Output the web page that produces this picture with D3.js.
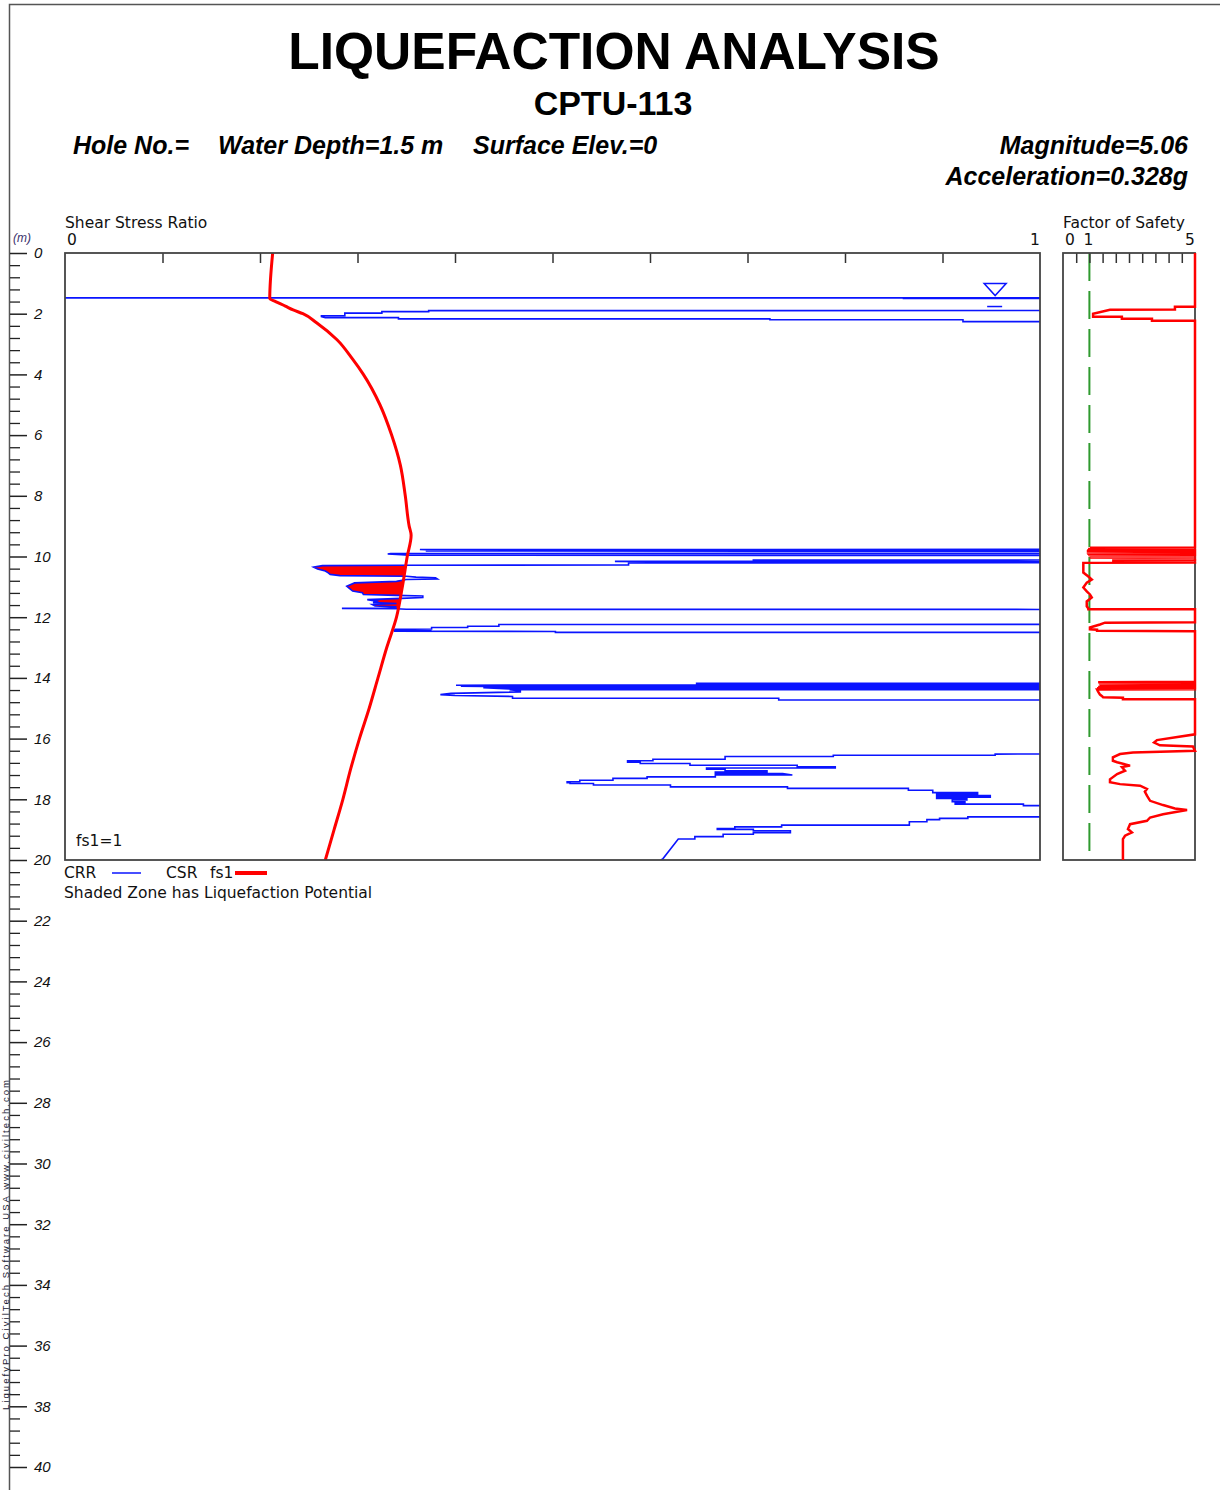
<!DOCTYPE html>
<html><head><meta charset="utf-8">
<script src="https://cdn.jsdelivr.net/npm/d3@7"></script>
<style>
body{margin:0;background:#fff}
svg{display:block}
.sm{font-family:"DejaVu Sans",sans-serif;font-size:15.5px;fill:#111}
.hd{font-family:"Liberation Sans",Arial,sans-serif;font-weight:bold;font-style:italic;font-size:25px;fill:#000}
</style>
</head><body>
<svg id="c" width="1220" height="1490"></svg>
<script>
// ---------- data ----------
const titleText = "LIQUEFACTION ANALYSIS";
const subTitle = "CPTU-113";
const headerLeft = ["Hole No.=", "Water Depth=1.5 m", "Surface Elev.=0"];
const headerRight = ["Magnitude=5.06", "Acceleration=0.328g"];
const waterDepth = 1.5;

const csrDepth = [0, 1.5, 1.6, 1.75, 1.875, 2.0, 2.3, 2.86, 3.5, 4, 5, 6, 7, 8, 9, 9.3, 10, 11, 12, 13, 14, 15, 16, 17, 18, 19, 20];
const csrValue = [0.213, 0.210, 0.216, 0.226, 0.234, 0.244, 0.258, 0.279, 0.295, 0.306, 0.323, 0.335, 0.344, 0.349, 0.353, 0.355, 0.351, 0.346, 0.340, 0.330, 0.321, 0.312, 0.302, 0.293, 0.285, 0.276, 0.267];

// CRR profile [depth (m), CRR]; values of 2 lie beyond the chart (CRR > 1)
const crrProfile = [
 [1.48,0],[1.48,2],[1.49,2],[1.49,0.86],[1.50,0.86],[1.50,2],
 [1.89,2],[1.90,0.373],[1.93,0.373],[1.93,0.325],[1.98,0.325],[1.98,0.287],[2.07,0.287],[2.07,0.263],[2.10,0.263],[2.13,0.267],[2.13,0.342],[2.17,0.342],[2.17,0.723],[2.20,0.723],[2.20,0.921],[2.26,0.921],[2.26,2],
 [9.76,2],[9.77,0.364],[9.78,0.37],[9.79,2],[9.81,2],[9.82,0.37],[9.83,2],[9.89,2],[9.90,0.334],[9.92,0.331],[9.94,0.345],[9.96,0.352],[9.97,2],
 [10.11,2],[10.12,0.706],[10.16,0.706],[10.16,0.564],[10.17,0.60],[10.18,2],[10.20,2],[10.21,0.578],[10.28,0.578],[10.29,0.344],
 [10.30,0.264],[10.35,0.255],[10.41,0.259],[10.48,0.267],[10.54,0.270],[10.59,0.272],[10.63,0.282],[10.65,0.35],[10.68,0.36],[10.70,0.38],[10.74,0.382],[10.76,0.35],
 [10.82,0.34],[10.87,0.297],[10.98,0.289],[11.06,0.292],[11.14,0.295],[11.19,0.305],[11.25,0.306],[11.28,0.34],[11.30,0.367],[11.35,0.367],[11.38,0.345],
 [11.42,0.31],[11.47,0.32],[11.52,0.316],[11.55,0.34],[11.58,0.315],[11.63,0.318],[11.66,0.34],[11.70,0.33],[11.71,0.284],[11.72,0.34],[11.74,0.35],[11.75,2],
 [12.23,2],[12.24,0.445],[12.30,0.445],[12.30,0.413],[12.34,0.413],[12.34,0.376],[12.39,0.376],[12.40,0.338],[12.41,0.376],[12.42,0.338],[12.46,0.338],[12.47,0.503],[12.50,0.503],[12.50,2],
 [14.17,2],[14.18,0.647],[14.20,2],[14.23,2],[14.24,0.401],[14.25,2],[14.26,2],[14.27,0.406],[14.28,0.429],[14.29,2],[14.31,2],[14.32,0.429],[14.36,0.456],[14.37,2],[14.38,2],[14.39,0.456],[14.43,0.467],[14.46,0.467],[14.51,0.396],[14.55,0.385],[14.58,0.400],[14.61,0.459],[14.67,0.459],[14.67,0.732],[14.73,0.732],[14.73,2],
 [16.50,2],[16.51,0.954],[16.55,0.954],[16.55,0.788],[16.59,0.788],[16.59,0.677],[16.68,0.677],[16.68,0.603],[16.73,0.603],[16.73,0.577],[16.78,0.577],[16.78,0.590],[16.82,0.590],[16.82,0.641],[16.88,0.641],[16.88,0.751],[16.93,0.751],[16.93,0.790],[16.97,0.790],[16.97,0.658],[17.01,0.658],[17.01,0.677],[17.06,0.677],[17.06,0.72],[17.10,0.72],[17.10,0.667],[17.15,0.667],[17.15,0.736],[17.20,0.746],[17.20,0.667],[17.26,0.667],[17.26,0.597],[17.31,0.597],[17.31,0.562],[17.37,0.562],[17.37,0.528],[17.42,0.528],[17.42,0.515],[17.45,0.515],[17.45,0.518],[17.48,0.518],[17.48,0.542],[17.53,0.542],[17.53,0.621],[17.59,0.621],[17.59,0.741],[17.64,0.741],[17.64,0.865],[17.70,0.865],[17.70,0.890],[17.78,0.890],[17.78,0.936],[17.82,0.936],[17.82,0.894],[17.88,0.894],[17.88,0.949],[17.93,0.949],[17.93,0.894],[17.97,0.894],[17.97,0.925],[18.02,0.925],[18.02,0.910],[18.08,0.910],[18.08,0.923],[18.12,0.923],[18.12,0.913],[18.16,0.913],[18.16,0.983],[18.21,0.983],[18.21,2],
 [18.58,2],[18.58,0.926],[18.63,0.926],[18.63,0.897],[18.67,0.897],[18.67,0.884],[18.74,0.884],[18.74,0.866],[18.85,0.866],[18.85,0.735],[18.91,0.735],[18.91,0.687],[18.96,0.687],[18.96,0.669],[18.99,0.669],[18.99,0.706],[19.04,0.706],[19.04,0.744],[19.10,0.744],[19.10,0.706],[19.15,0.706],[19.15,0.675],[19.23,0.675],[19.23,0.646],[19.31,0.646],[19.31,0.629],[19.97,0.613],[20,0.611]
];

// Factor of safety profile [depth (m), FS] (capped at 5)
const fsProfile = [
 [0,5],[1.77,5],[1.77,4.24],[1.86,4.24],[1.87,1.78],[2.00,1.14],[2.10,1.14],[2.10,2.23],[2.17,2.23],[2.17,3.37],[2.23,3.37],[2.23,5],
 [9.70,5],[9.71,1.02],[9.72,5],[9.74,5],[9.75,0.95],[9.76,5],[9.78,5],[9.79,0.92],[9.80,5],[9.82,5],[9.83,0.90],[9.84,5],[9.86,5],[9.87,0.90],[9.88,5],[9.90,5],[9.91,0.92],[9.92,5],[9.94,5],[9.95,0.95],[9.96,5],[9.98,5],[9.99,1.0],[10.00,5],[10.02,5],[10.03,1.02],[10.04,5],
 [10.12,5],[10.13,1.86],[10.14,5],[10.20,5],[10.21,0.77],[10.26,0.77],[10.53,0.77],[10.66,0.96],[10.76,1.09],[10.86,0.90],[11.02,0.77],[11.15,0.90],[11.25,1.02],[11.35,1.09],[11.48,0.90],[11.64,0.90],[11.71,0.96],[11.74,0.96],[11.74,5],
 [12.17,5],[12.18,1.59],[12.24,1.40],[12.34,1.02],[12.40,1.02],[12.41,1.29],[12.45,1.29],[12.46,5],
 [14.13,5],[14.14,1.33],[14.15,5],[14.17,5],[14.18,1.36],[14.19,5],[14.21,5],[14.22,1.40],[14.23,5],[14.25,5],[14.26,1.38],[14.27,5],[14.29,5],[14.30,1.33],[14.31,5],[14.33,5],[14.34,1.29],[14.35,5],[14.37,5],[14.38,1.29],[14.45,1.33],[14.55,1.40],[14.60,1.48],[14.64,1.52],[14.65,2.27],[14.70,2.27],[14.70,5],
 [15.86,5],[16.05,3.56],[16.13,3.45],[16.22,3.67],[16.26,4.92],[16.40,5],[16.46,2.65],[16.51,2.16],[16.62,1.89],[16.73,1.89],[16.78,2.05],[16.89,2.54],[16.94,2.23],[17.06,2.35],[17.17,2.05],[17.34,1.78],[17.44,1.78],[17.50,2.16],[17.55,2.92],[17.66,3.18],[17.75,3.10],[17.88,3.18],[18.05,3.30],[18.19,3.79],[18.30,4.24],[18.35,4.70],[18.41,4.32],[18.49,3.79],[18.60,3.30],[18.71,3.18],[18.82,2.54],[18.98,2.46],[19.09,2.61],[19.20,2.35],[19.31,2.27],[20,2.27]
];

const ssrTicks = [0.1,0.2,0.3,0.4,0.5,0.6,0.7,0.8,0.9];
const ssrLabels = [0, 1];
const fsTicks = [0.5,1,1.5,2,2.5,3,3.5,4,4.5];
const fsLabels = [0, 1, 5];
const depthMajor = [0,2,4,6,8,10,12,14,16,18,20,22,24,26,28,30,32,34,36,38,40];

// ---------- layout ----------
const svg = d3.select("#c");
const x = d3.scaleLinear([0, 1], [65, 1040]);
const y = d3.scaleLinear([0, 20], [253, 860]);
const fx = d3.scaleLinear([0, 5], [1063, 1195]);
const yd = d3.scaleLinear([0, 40], [253, 1467]);
const csrAt = d => {
  const i = d3.bisectRight(csrDepth, d);
  if (i <= 0) return csrValue[0];
  if (i >= csrDepth.length) return csrValue[csrValue.length - 1];
  const t = (d - csrDepth[i-1]) / (csrDepth[i] - csrDepth[i-1]);
  return csrValue[i-1] + t * (csrValue[i] - csrValue[i-1]);
};

// outer frame
svg.append("rect").attr("x", 9.5).attr("y", 4.5).attr("width", 1240).attr("height", 1520)
  .attr("fill", "none").attr("stroke", "#555").attr("stroke-width", 1.5);

// titles
svg.append("text").attr("x", 614).attr("y", 69).attr("text-anchor", "middle")
  .style("font-family", "'Liberation Sans',Arial,sans-serif").style("font-weight", "bold").style("font-size", "51.5px").text(titleText);
svg.append("text").attr("x", 613).attr("y", 115).attr("text-anchor", "middle")
  .style("font-family", "'Liberation Sans',Arial,sans-serif").style("font-weight", "bold").style("font-size", "34px").text(subTitle);
const hlx = [73, 218, 473];
headerLeft.forEach((t, i) => svg.append("text").attr("class", "hd").attr("x", hlx[i]).attr("y", 154).text(t));
headerRight.forEach((t, i) => svg.append("text").attr("class", "hd").attr("x", 1188).attr("y", 154 + i * 31).attr("text-anchor", "end").text(t));

// depth axis
const depthMinor = d3.range(0, 40.001, 0.4).filter(v => Math.abs(v / 2 - Math.round(v / 2)) > 1e-6);
svg.append("g").attr("transform", "translate(10,0)")
  .call(d3.axisRight(yd).tickValues(depthMinor).tickSize(10).tickFormat(""))
  .call(g => g.select(".domain").remove())
  .call(g => g.selectAll("line").attr("stroke", "#222").attr("stroke-width", 1.3));
svg.append("g").attr("transform", "translate(10,0)")
  .call(d3.axisRight(yd).tickValues(depthMajor).tickSize(17).tickPadding(7).tickFormat(d3.format("d")))
  .call(g => g.select(".domain").remove())
  .call(g => g.selectAll("line").attr("stroke", "#222").attr("stroke-width", 1.5))
  .call(g => g.selectAll("text").style("font-family", "'Liberation Sans',Arial,sans-serif").style("font-style", "italic").style("font-size", "15px").attr("fill", "#111"));
svg.append("text").attr("x", 13).attr("y", 242).style("font-family", "'Liberation Sans',Arial,sans-serif")
  .style("font-style", "italic").style("font-size", "12px").attr("fill", "#3b2f6b").text("(m)");

// vertical credit text at page edge
svg.append("text").attr("transform", "translate(8.5,1410) rotate(-90)")
  .style("font-family", "'Liberation Sans',Arial,sans-serif").style("font-size", "9.5px").attr("fill", "#223")
  .attr("textLength", 330).attr("lengthAdjust", "spacing")
  .text("LiquefyPro   CivilTech Software   USA   www.civiltech.com");

// ---------- main plot ----------
svg.append("text").attr("class", "sm").attr("x", 65).attr("y", 228).text("Shear Stress Ratio");
ssrLabels.forEach(v => svg.append("text").attr("class", "sm").attr("x", x(v) + (v === 0 ? 7 : -5)).attr("y", 245)
  .attr("text-anchor", "middle").text(v));

svg.append("defs").append("clipPath").attr("id", "clipMain")
  .append("rect").attr("x", x(0)).attr("y", y(0)).attr("width", x(1) - x(0)).attr("height", y(20) - y(0));

const plot = svg.append("g").attr("clip-path", "url(#clipMain)");

// shaded zone (CRR < CSR)
const area = d3.area()
  .y(d => y(d[0]))
  .x0(d => x(Math.min(d[1], csrAt(d[0]))))
  .x1(d => x(csrAt(d[0])));
plot.append("path").datum(crrProfile).attr("d", area).attr("fill", "#ff0000").attr("stroke", "none");

// CRR line
const line = d3.line().x(d => x(d[1])).y(d => y(d[0]));
plot.append("path").datum(crrProfile).attr("d", line).attr("fill", "none")
  .attr("stroke", "#0a14ff").attr("stroke-width", 1.6);

// CSR line (smooth)
const csrPts = csrDepth.map((d, i) => [d, csrValue[i]]);
plot.append("path").datum(csrPts).attr("d", d3.line().curve(d3.curveMonotoneY).x(d => x(d[1])).y(d => y(d[0])))
  .attr("fill", "none").attr("stroke", "#ff0000").attr("stroke-width", 3);

// water table symbol
const wx = x(0.954), wy = y(waterDepth) - 3;
svg.append("path").attr("d", `M${wx-11},${wy-12}H${wx+11}L${wx},${wy}Z`)
  .attr("fill", "none").attr("stroke", "#0a14ff").attr("stroke-width", 1.5);
svg.append("line").attr("x1", wx - 8).attr("x2", wx + 7).attr("y1", wy + 11).attr("y2", wy + 11)
  .attr("stroke", "#0a14ff").attr("stroke-width", 1.5);

// frame + top ticks
svg.append("g").attr("transform", `translate(0,${y(0)})`)
  .call(d3.axisTop(x).tickValues(ssrTicks).tickSize(-10).tickFormat(""))
  .call(g => g.select(".domain").remove())
  .call(g => g.selectAll("line").attr("stroke", "#333").attr("stroke-width", 1.5));
svg.append("rect").attr("x", x(0)).attr("y", y(0)).attr("width", x(1) - x(0)).attr("height", y(20) - y(0))
  .attr("fill", "none").attr("stroke", "#444").attr("stroke-width", 1.8);

svg.append("text").attr("class", "sm").attr("x", 76).attr("y", 846).text("fs1=1");

// legend
svg.append("text").attr("class", "sm").attr("x", 64).attr("y", 878).text("CRR");
svg.append("line").attr("x1", 112).attr("x2", 141).attr("y1", 873).attr("y2", 873).attr("stroke", "#0a14ff").attr("stroke-width", 1.5);
svg.append("text").attr("class", "sm").attr("x", 166).attr("y", 878).text("CSR");
svg.append("text").attr("class", "sm").attr("x", 210).attr("y", 878).text("fs1");
svg.append("line").attr("x1", 235).attr("x2", 267).attr("y1", 873).attr("y2", 873).attr("stroke", "#ff0000").attr("stroke-width", 4);
svg.append("text").attr("class", "sm").attr("x", 64).attr("y", 898).text("Shaded Zone has Liquefaction Potential");

// ---------- factor of safety panel ----------
svg.append("text").attr("class", "sm").attr("x", 1063).attr("y", 228).text("Factor of Safety");
fsLabels.forEach(v => svg.append("text").attr("class", "sm").attr("x", fx(v) + (v === 5 ? -5 : 7) - (v === 1 ? 8 : 0)).attr("y", 245)
  .attr("text-anchor", "middle").text(v));

svg.append("line").attr("x1", fx(1)).attr("x2", fx(1)).attr("y1", y(0)).attr("y2", y(20))
  .attr("stroke", "#2f9a2f").attr("stroke-width", 2).attr("stroke-dasharray", "28,10");

svg.append("g").attr("transform", `translate(0,${y(0)})`)
  .call(d3.axisTop(fx).tickValues(fsTicks).tickSize(-10).tickFormat(""))
  .call(g => g.select(".domain").remove())
  .call(g => g.selectAll("line").attr("stroke", "#333").attr("stroke-width", 1.5));
svg.append("rect").attr("x", fx(0)).attr("y", y(0)).attr("width", fx(5) - fx(0)).attr("height", y(20) - y(0))
  .attr("fill", "none").attr("stroke", "#444").attr("stroke-width", 1.8);

const fsLine = d3.line().x(d => fx(d[1])).y(d => y(d[0]));
svg.append("path").datum(fsProfile).attr("d", fsLine).attr("fill", "none")
  .attr("stroke", "#ff0000").attr("stroke-width", 2.5);
</script>
</body></html>
